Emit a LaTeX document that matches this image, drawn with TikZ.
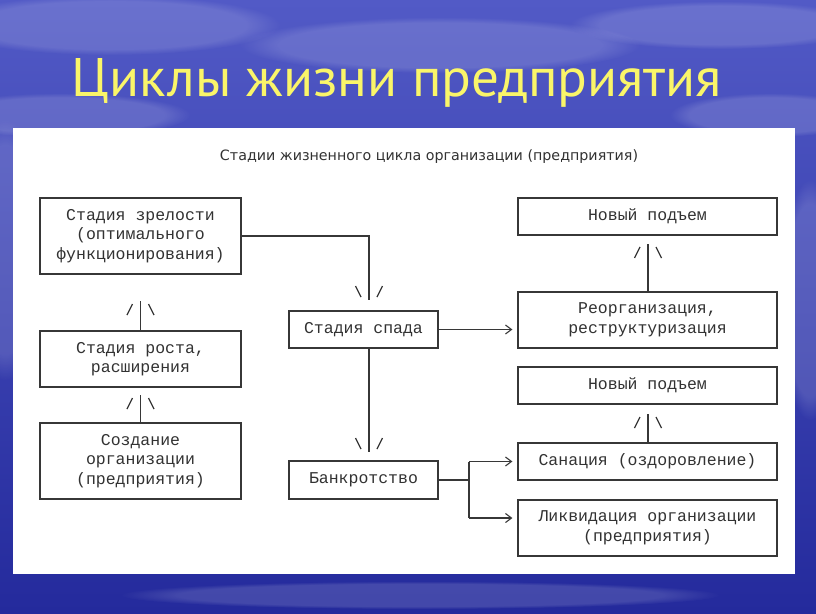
\documentclass[tikz,border=0pt]{standalone}
\usepackage{fontspec}
\newfontfamily\monof{Liberation Mono}
\newfontfamily\headf{DejaVu Sans}
\newfontfamily\titlef{PT Sans}
\usetikzlibrary{arrows.meta,fadings}
\definecolor{skytop}{RGB}{82,90,198}
\definecolor{skybot}{RGB}{36,42,156}
\definecolor{linec}{RGB}{55,55,55}
\definecolor{textc}{RGB}{50,50,50}
\definecolor{titlec}{RGB}{250,245,105}
\tikzset{
  box/.style={draw=linec, line width=1.2pt, fill=white, text=textc,
    font=\monof\fontsize{16.5}{19.5}\selectfont, align=center, inner sep=0pt},
  conn/.style={draw=linec, line width=1.2pt},
  barb/.style={-{Straight Barb[length=6pt,width=9pt,line width=1.1pt]}, shorten >=5pt},
  upmark/.pic={\draw[conn] (-13.5,14)--(-8,3) (8,3)--(13.5,14);},
  downmark/.pic={\draw[conn] (-13.5,-14)--(-8,-3) (8,-3)--(13.5,-14);},
  cloud/.style={fill=white, path fading=circle with fuzzy edge 20 percent, opacity=0.14}
}
\begin{document}
\begin{tikzpicture}[x=1pt,y=-1pt]
\useasboundingbox (0,0) rectangle (816,613);
% sky background
\shade[top color=skytop, bottom color=skybot] (0,0) rectangle (816,613);
\fill[cloud] (110,25) ellipse (170 and 30);
\fill[cloud] (440,45) ellipse (200 and 28);
\fill[cloud] (720,25) ellipse (150 and 24);
\fill[cloud] (770,115) ellipse (100 and 22);
\fill[cloud] (60,115) ellipse (130 and 22);
\fill[cloud] (5,250) ellipse (40 and 130);
\fill[cloud] (810,300) ellipse (30 and 120);
\fill[cloud] (420,595) ellipse (300 and 14);
% title
\node[anchor=base, text=titlec] (title) at (397,96) {\resizebox{650pt}{38pt}{\titlef Циклы жизни предприятия}};
% white panel
\fill[white] (13,128) rectangle (795,574);
\node[anchor=base, text=textc] (head) at (429,160) {\resizebox{418pt}{!}{\headf Стадии жизненного цикла организации (предприятия)}};
% boxes
\node[box, minimum width=201pt, minimum height=76pt] (mat) at (140.5,236) {Стадия зрелости\\(оптимального\\функционирования)};
\node[box, minimum width=201pt, minimum height=56pt] (grow) at (140.5,359) {Стадия роста,\\ расширения};
\node[box, minimum width=201pt, minimum height=76pt] (create) at (140.5,461) {Создание\\организации\\(предприятия)};
\node[box, minimum width=149pt, minimum height=37pt] (decl) at (363.5,329.5) {Стадия спада};
\node[box, minimum width=149pt, minimum height=38pt] (bank) at (363.5,480) {Банкротство};
\node[box, minimum width=259pt, minimum height=37pt] (new1) at (647.5,216.5) {Новый подъем};
\node[box, minimum width=259pt, minimum height=56pt] (reorg) at (647.5,320) {Реорганизация,\\реструктуризация};
\node[box, minimum width=259pt, minimum height=37pt] (new2) at (647.5,385.5) {Новый подъем};
\node[box, minimum width=259pt, minimum height=37pt] (san) at (647.5,461.5) {Санация (оздоровление)};
\node[box, minimum width=259pt, minimum height=56pt] (liq) at (647.5,528) {Ликвидация организации\\(предприятия)};
% helper coordinates
\coordinate (xd) at (369,0);
\coordinate (xs) at (469,0);
\coordinate (t1) at (369,300);
\coordinate (t2) at (140.5,301);
\coordinate (t3) at (140.5,395);
\coordinate (t4) at (369,452);
\coordinate (t5) at (648,244);
\coordinate (t6) at (648,414);
\coordinate (sp1) at (469,461.5);
\coordinate (sp2) at (469,518);
% connectors
\draw[conn] (mat.east) -| (t1);
\pic at (t1) {downmark};
\draw[conn] (grow.north) -- (t2);
\pic at (t2) {upmark};
\draw[conn] (create.north) -- (t3);
\pic at (t3) {upmark};
\draw[conn, barb] (decl.east) -- (decl.east -| reorg.west);
\draw[conn] (decl.south -| xd) -- (t4);
\pic at (t4) {downmark};
\draw[conn] (reorg.north -| t5) -- (t5);
\pic at (t5) {upmark};
\draw[conn] (san.north -| t6) -- (t6);
\pic at (t6) {upmark};
\draw[conn] (bank.east) -- (bank.east -| xs);
\draw[conn] (sp1) -- (sp2);
\draw[conn, barb] (sp1) -- (sp1 -| san.west);
\draw[conn, barb] (sp2) -- (sp2 -| liq.west);
\end{tikzpicture}
\end{document}
